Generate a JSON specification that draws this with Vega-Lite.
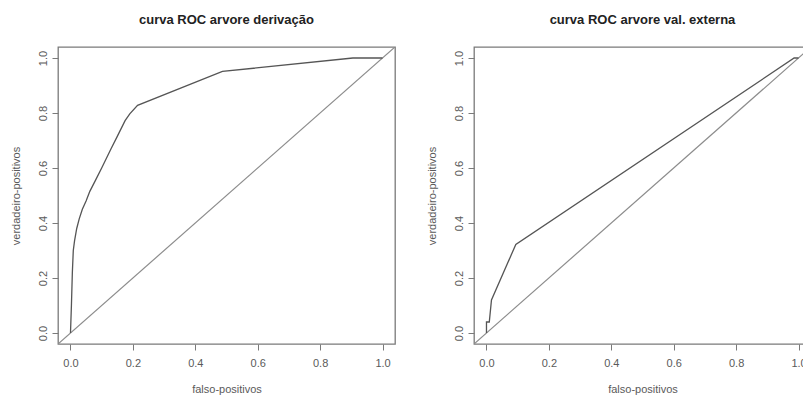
{
  "$schema": "https://vega.github.io/schema/vega-lite/v6.json",
  "padding": {"left": 9, "top": 13, "right": 0, "bottom": 0},
  "background": "white",
  "datasets": {
    "diagonal": [
      {"i": 0, "fp": -0.04, "vp": -0.04},
      {"i": 1, "fp": 1.04, "vp": 1.04}
    ],
    "derivacao": [
      {"i": 0, "fp": 0.0, "vp": 0.0},
      {"i": 1, "fp": 0.003, "vp": 0.1},
      {"i": 2, "fp": 0.006, "vp": 0.22},
      {"i": 3, "fp": 0.009, "vp": 0.3},
      {"i": 4, "fp": 0.013, "vp": 0.335},
      {"i": 5, "fp": 0.02, "vp": 0.38},
      {"i": 6, "fp": 0.028, "vp": 0.415},
      {"i": 7, "fp": 0.038, "vp": 0.45},
      {"i": 8, "fp": 0.05, "vp": 0.48},
      {"i": 9, "fp": 0.062, "vp": 0.515},
      {"i": 10, "fp": 0.08, "vp": 0.555},
      {"i": 11, "fp": 0.1, "vp": 0.6},
      {"i": 12, "fp": 0.13, "vp": 0.67},
      {"i": 13, "fp": 0.15, "vp": 0.715},
      {"i": 14, "fp": 0.175, "vp": 0.772},
      {"i": 15, "fp": 0.19, "vp": 0.797},
      {"i": 16, "fp": 0.215, "vp": 0.828},
      {"i": 17, "fp": 0.487, "vp": 0.951},
      {"i": 18, "fp": 0.905, "vp": 1.0},
      {"i": 19, "fp": 1.0, "vp": 1.0}
    ],
    "externa": [
      {"i": 0, "fp": 0.0, "vp": 0.0},
      {"i": 1, "fp": 0.0, "vp": 0.04},
      {"i": 2, "fp": 0.009, "vp": 0.04},
      {"i": 3, "fp": 0.016, "vp": 0.12},
      {"i": 4, "fp": 0.094, "vp": 0.322},
      {"i": 5, "fp": 0.986, "vp": 1.0},
      {"i": 6, "fp": 1.0, "vp": 1.0}
    ]
  },
  "hconcat": [
    {
      "width": 337,
      "height": 297,
      "title": "curva ROC arvore derivação",
      "encoding": {
        "x": {
          "field": "fp", "type": "quantitative",
          "scale": {"domain": [-0.04, 1.04], "nice": false, "zero": false},
          "axis": {"title": "falso-positivos", "values": [0, 0.2, 0.4, 0.6, 0.8, 1.0], "format": ".1f"}
        },
        "y": {
          "field": "vp", "type": "quantitative",
          "scale": {"domain": [-0.04, 1.04], "nice": false, "zero": false},
          "axis": {"title": "verdadeiro-positivos", "values": [0, 0.2, 0.4, 0.6, 0.8, 1.0], "format": ".1f"}
        },
        "order": {"field": "i", "type": "quantitative"}
      },
      "layer": [
        {"data": {"name": "diagonal"}, "mark": {"type": "line", "color": "#8c8c8c", "strokeWidth": 1.2, "clip": true}},
        {"data": {"name": "derivacao"}, "mark": {"type": "line", "color": "#555555", "strokeWidth": 1.3, "clip": true}}
      ]
    },
    {
      "width": 337,
      "height": 297,
      "title": "curva ROC arvore val. externa",
      "encoding": {
        "x": {
          "field": "fp", "type": "quantitative",
          "scale": {"domain": [-0.04, 1.04], "nice": false, "zero": false},
          "axis": {"title": "falso-positivos", "values": [0, 0.2, 0.4, 0.6, 0.8, 1.0], "format": ".1f"}
        },
        "y": {
          "field": "vp", "type": "quantitative",
          "scale": {"domain": [-0.04, 1.04], "nice": false, "zero": false},
          "axis": {"title": "verdadeiro-positivos", "values": [0, 0.2, 0.4, 0.6, 0.8, 1.0], "format": ".1f"}
        },
        "order": {"field": "i", "type": "quantitative"}
      },
      "layer": [
        {"data": {"name": "diagonal"}, "mark": {"type": "line", "color": "#8c8c8c", "strokeWidth": 1.2, "clip": true}},
        {"data": {"name": "externa"}, "mark": {"type": "line", "color": "#555555", "strokeWidth": 1.3, "clip": true}}
      ]
    }
  ],
  "spacing": 79,
  "bounds": "flush",
  "config": {
    "view": {"stroke": "#7a7a7a", "strokeWidth": 1.3},
    "title": {"font": "Liberation Sans", "fontSize": 13, "fontWeight": "bold", "color": "#222222", "anchor": "middle", "baseline": "alphabetic", "offset": 20},
    "axis": {
      "grid": false,
      "domain": false,
      "ticks": true,
      "tickColor": "#7a7a7a",
      "tickSize": 6,
      "labelFont": "Liberation Sans",
      "labelFontSize": 11,
      "labelColor": "#5a5a5a",
      "labelOverlap": false,
      "titleFont": "Liberation Sans",
      "titleFontSize": 11,
      "titleFontWeight": "normal",
      "titleColor": "#5a5a5a"
    },
    "axisX": {"labelPadding": 7, "titlePadding": 15, "labelFlush": false},
    "axisY": {"labelAngle": -90, "labelAlign": "center", "labelBaseline": "bottom", "labelPadding": 4, "titlePadding": 16, "labelFlush": false}
  }
}
